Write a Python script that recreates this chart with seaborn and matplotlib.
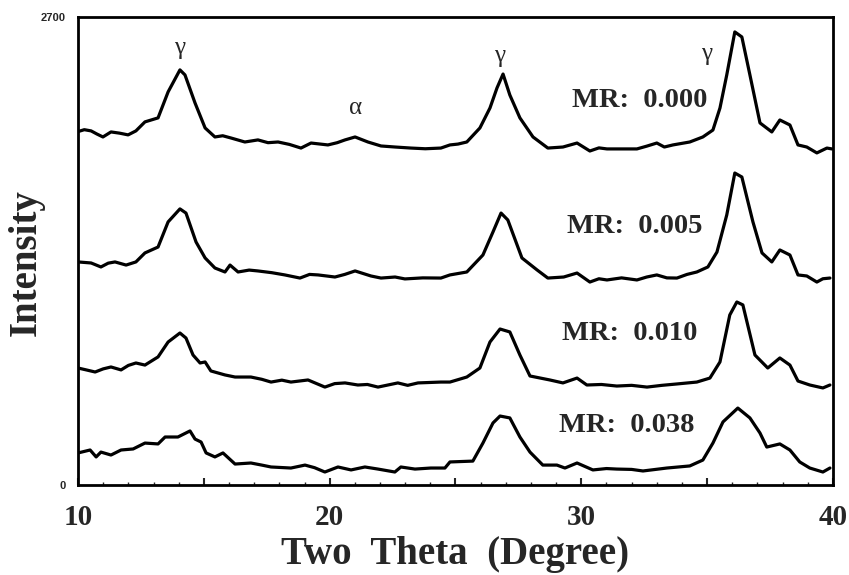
import matplotlib
matplotlib.use("Agg")
import matplotlib.pyplot as plt
import seaborn as sns
import pandas as pd

# ---------------- data ----------------
mr_labels = ["MR:  0.000", "MR:  0.005", "MR:  0.010", "MR:  0.038"]

tt_000 = [10.00, 10.25, 10.52, 10.75, 10.99, 11.31, 11.65, 11.99, 12.30, 12.66, 13.18, 13.58, 14.05, 14.25,
          14.65, 15.05, 15.44, 15.75, 16.08, 16.63, 17.15, 17.55, 17.95, 18.40, 18.86, 19.26, 19.93, 20.30,
          20.61, 21.01, 21.52, 22.04, 22.60, 23.23, 23.80, 24.42, 24.78, 25.10, 25.45, 25.97, 26.37, 26.65,
          26.89, 27.16, 27.56, 28.08, 28.67, 29.27, 29.83, 30.34, 30.70, 31.02, 31.65, 32.21, 32.60, 33.00,
          33.30, 33.64, 34.31, 34.83, 35.23, 35.51, 35.78, 36.10, 36.38, 36.70, 37.10, 37.57, 37.89, 38.29,
          38.61, 38.96, 39.36, 39.76, 39.96]
int_000 = [2039, 2050, 2043, 2025, 2008, 2037, 2030, 2020, 2043, 2095, 2118, 2268, 2395, 2366,
           2204, 2060, 2008, 2015, 2002, 1979, 1991, 1975, 1979, 1965, 1944, 1973, 1962, 1975,
           1991, 2008, 1979, 1956, 1950, 1944, 1940, 1944, 1962, 1967, 1979, 2060, 2175, 2291,
           2371, 2250, 2118, 2008, 1944, 1950, 1973, 1927, 1945, 1939, 1939, 1939, 1955, 1973,
           1950, 1962, 1979, 2008, 2048, 2175, 2366, 2614, 2585, 2366, 2089, 2037, 2106, 2077,
           1962, 1950, 1916, 1944, 1939]

tt_005 = [10.00, 10.52, 10.91, 11.20, 11.47, 11.91, 12.30, 12.66, 13.18, 13.58, 14.05, 14.29, 14.69, 15.05,
          15.44, 15.84, 16.04, 16.36, 16.80, 17.15, 17.70, 18.22, 18.82, 19.20, 19.54, 20.21, 20.60, 21.01,
          21.64, 22.04, 22.60, 22.99, 23.70, 24.42, 24.78, 25.45, 26.09, 26.49, 26.81, 27.08, 27.64, 28.24,
          28.67, 29.30, 29.83, 30.34, 30.70, 31.02, 31.60, 32.21, 32.60, 33.00, 33.40, 33.80, 34.20, 34.59,
          35.03, 35.39, 35.78, 36.10, 36.38, 36.82, 37.18, 37.57, 37.89, 38.29, 38.61, 38.96, 39.36, 39.60,
          39.88]
int_005 = [1287, 1281, 1258, 1280, 1287, 1269, 1287, 1339, 1373, 1518, 1593, 1569, 1402, 1310,
           1252, 1229, 1269, 1229, 1240, 1235, 1225, 1212, 1194, 1215, 1212, 1200, 1215, 1235,
           1206, 1194, 1200, 1189, 1195, 1194, 1212, 1229, 1327, 1460, 1569, 1529, 1310, 1241,
           1194, 1200, 1223, 1171, 1190, 1183, 1195, 1183, 1200, 1212, 1195, 1194, 1215, 1229,
           1258, 1344, 1558, 1800, 1777, 1518, 1339, 1287, 1356, 1327, 1212, 1206, 1171, 1190,
           1194]

tt_010 = [10.00, 10.30, 10.68, 11.00, 11.31, 11.71, 12.00, 12.30, 12.66, 13.18, 13.58, 14.05, 14.29, 14.57,
          14.85, 15.05, 15.28, 15.84, 16.24, 16.87, 17.30, 17.67, 18.10, 18.46, 19.14, 19.81, 20.20, 20.61,
          21.12, 21.50, 21.92, 22.71, 23.10, 23.51, 24.42, 24.78, 25.45, 25.97, 26.37, 26.77, 27.16, 27.56,
          27.96, 28.75, 29.27, 29.83, 30.22, 30.80, 31.41, 32.00, 32.61, 33.20, 33.80, 34.59, 35.11, 35.51,
          35.90, 36.18, 36.42, 36.90, 37.41, 37.89, 38.29, 38.61, 39.08, 39.60, 39.88]
int_010 = [675, 665, 652, 670, 681, 664, 690, 704, 692, 739, 825, 877, 848, 750,
           704, 710, 658, 635, 623, 623, 610, 594, 605, 594, 606, 565, 585, 589,
           577, 580, 565, 589, 575, 589, 594, 594, 623, 675, 825, 900, 883, 750,
           629, 606, 589, 617, 577, 580, 571, 575, 565, 575, 583, 594, 617, 710,
           981, 1056, 1039, 750, 675, 733, 692, 600, 577, 560, 577]

tt_038 = [10.00, 10.48, 10.72, 10.91, 11.31, 11.71, 12.19, 12.66, 13.18, 13.46, 13.97, 14.45, 14.65, 14.89,
          15.09, 15.44, 15.76, 16.24, 16.87, 17.30, 17.67, 18.46, 19.02, 19.40, 19.81, 20.33, 20.85, 21.40,
          21.92, 22.59, 22.83, 23.39, 24.02, 24.58, 24.78, 25.69, 26.09, 26.49, 26.77, 27.16, 27.56, 27.96,
          28.47, 29.03, 29.35, 29.83, 30.46, 31.00, 31.41, 32.00, 32.45, 33.40, 34.31, 34.83, 35.23, 35.63,
          36.22, 36.70, 37.10, 37.37, 37.89, 38.29, 38.68, 39.08, 39.60, 39.88]
int_038 = [185, 202, 162, 190, 173, 202, 208, 242, 237, 277, 277, 312, 265, 248,
           185, 162, 185, 121, 127, 115, 104, 98, 115, 100, 75, 104, 87, 104,
           92, 75, 104, 92, 98, 98, 133, 138, 242, 358, 398, 387, 277, 190,
           115, 115, 98, 127, 87, 95, 92, 90, 81, 98, 110, 144, 242, 364,
           444, 387, 300, 219, 237, 202, 133, 98, 75, 98]

series_tt = [tt_000, tt_005, tt_010, tt_038]
series_int = [int_000, int_005, int_010, int_038]

# label anchor positions (right edge, vertical centre) in data units
mr_x = [34.99, 34.83, 34.63, 34.51]
mr_y = [2221, 1494, 877, 346]

peak_labels = ["γ", "γ", "γ", "α"]
peak_x = [14.05, 26.77, 34.99, 21.01]
peak_y = [2521, 2475, 2487, 2175]

x_ticks = [10, 15, 20, 25, 30, 35, 40]
x_ticklabels = ["10", "", "20", "", "30", "", "40"]
y_ticks = [0, 2700]
y_ticklabels = ["0", "2700"]

# ---------------- figure ----------------
sns.set_style("ticks")
plt.rcParams["font.family"] = ["Liberation Serif", "DejaVu Serif"]

frames = []
for lab, xs, ys in zip(mr_labels, series_tt, series_int):
    frames.append(pd.DataFrame({"two_theta": xs, "intensity": ys, "MR": lab}))
df = pd.concat(frames, ignore_index=True)

fig = plt.figure(figsize=(8.49, 5.75), dpi=100)
ax = fig.add_axes([0.0919, 0.1565, 0.8892, 0.8139])

sns.lineplot(data=df, x="two_theta", y="intensity", units="MR", estimator=None,
             color="black", linewidth=2.3, sort=False, ax=ax, legend=False)

ax.set_xlim(10, 40)
ax.set_ylim(0, 2700)

ax.set_xticks(x_ticks)
ax.set_xticklabels(x_ticklabels, fontsize=21, fontweight="bold")
ax.set_xticks(range(10, 41), minor=True)
ax.tick_params(axis="x", which="major", direction="in", length=5, width=1.5, pad=14)
ax.tick_params(axis="x", which="minor", direction="in", length=2.5, width=1)

ax.set_yticks(y_ticks)
ax.set_yticklabels(y_ticklabels, fontsize=8, fontweight="bold", family="Liberation Sans")
ax.tick_params(axis="y", which="major", length=0, pad=9)

for side in ["left", "right", "top", "bottom"]:
    ax.spines[side].set_visible(True)
    ax.spines[side].set_linewidth(2)
    ax.spines[side].set_color("black")

ax.set_xlabel("Two  Theta  (Degree)", fontsize=28, fontweight="bold")
ax.xaxis.set_label_coords(0.5, -0.108)
ax.xaxis.label.set_va("top")
ax.set_ylabel("Intensity", fontsize=28, fontweight="bold")
ax.yaxis.set_label_coords(-0.044, 0.476)

for lab, x, y in zip(mr_labels, mr_x, mr_y):
    ax.text(x, y, lab, ha="right", va="center", fontsize=20.5, fontweight="bold")

for lab, x, y in zip(peak_labels, peak_x, peak_y):
    ax.text(x, y, lab, ha="center", va="center", fontsize=18)

fig.savefig("out.png", dpi=100)
